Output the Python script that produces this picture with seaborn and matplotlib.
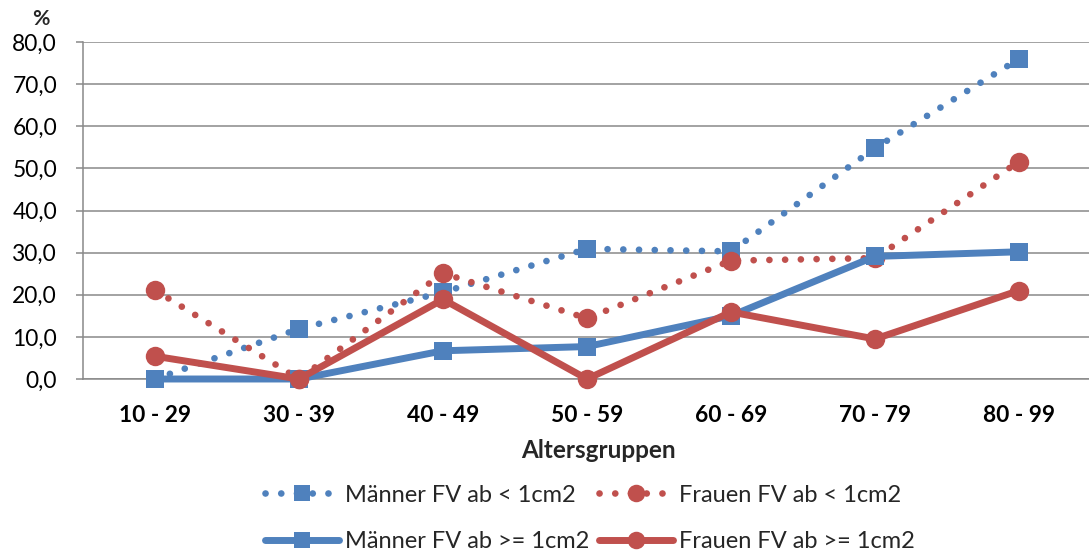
import numpy as np
import pandas as pd
import matplotlib
matplotlib.use("Agg")
import matplotlib.pyplot as plt
import seaborn as sns
from matplotlib.ticker import FuncFormatter, MultipleLocator

# Age groups and percentages per series
altersgruppen = ["10 - 29", "30 - 39", "40 - 49", "50 - 59", "60 - 69", "70 - 79", "80 - 99"]
maenner_lt1 = [0.0, 11.9, 20.6, 30.9, 30.3, 54.8, 76.0]
frauen_lt1 = [21.1, 0.0, 25.1, 14.4, 28.1, 28.7, 51.6]
maenner_ge1 = [0.0, 0.0, 6.7, 7.7, 15.0, 29.1, 30.2]
frauen_ge1 = [5.4, 0.0, 18.9, 0.0, 15.9, 9.5, 21.0]

series_names = ["Männer FV ab < 1cm2", "Frauen FV ab < 1cm2",
                "Männer FV ab >= 1cm2", "Frauen FV ab >= 1cm2"]
series_values = [maenner_lt1, frauen_lt1, maenner_ge1, frauen_ge1]

BLUE = "#4F81BD"
RED = "#C0504D"
GRID = "#898989"

W, H = 1089, 556

sns.set_theme(style="white")
plt.rcParams["font.family"] = ["Lato", "DejaVu Sans"]

fig = plt.figure(figsize=(W / 100, H / 100), dpi=100)
ax = fig.add_axes([83 / W, (H - 379) / H, (1091 - 83) / W, (379 - 42) / H])

x_pos = np.arange(len(altersgruppen))
dotted = (0, (0.01, 2.35))
styles = [
    dict(color=BLUE, marker="s", ls=dotted, lw=4.8, ms=13.5),
    dict(color=RED, marker="o", ls=dotted, lw=4.8, ms=14),
    dict(color=BLUE, marker="s", ls="-", lw=5.0, ms=13.5),
    dict(color=RED, marker="o", ls="-", lw=5.0, ms=14),
]

for i, (name, vals, st) in enumerate(zip(series_names, series_values, styles)):
    df = pd.DataFrame({"x": x_pos, "y": vals})
    sns.lineplot(data=df, x="x", y="y", ax=ax, color=st["color"], marker=st["marker"],
                 linestyle=st["ls"], linewidth=st["lw"], markersize=st["ms"],
                 markeredgewidth=0, dash_capstyle="round", solid_capstyle="round",
                 label=name, legend=False, zorder=3 + i, clip_on=False, sort=False)

ax.set_xlim(-0.5, 6.5)
ax.set_ylim(0, 80)
ax.yaxis.set_major_locator(MultipleLocator(10))
ax.yaxis.set_major_formatter(FuncFormatter(lambda v, p: f"{v:.1f}".replace(".", ",")))
ax.set_xticks(x_pos)
ax.set_xticklabels(altersgruppen, fontweight="bold")
ax.grid(axis="y", color=GRID, linewidth=1.1)
ax.set_axisbelow(True)
ax.set_xlabel("")
ax.set_ylabel("")

for side in ["top", "right"]:
    ax.spines[side].set_visible(False)
for side in ["left", "bottom"]:
    ax.spines[side].set_color(GRID)
    ax.spines[side].set_linewidth(1.1)

ax.tick_params(axis="y", which="major", length=5.2, width=1.1, color=GRID,
               direction="out", left=True, pad=13.5, labelsize=16, labelcolor="black")
ax.tick_params(axis="x", length=0, pad=19, labelsize=16, labelcolor="black")

xlab = fig.text(598 / W, 1 - 450 / H, "Altersgruppen", ha="center", va="center",
                fontsize=16, fontweight="bold")
pct = fig.text(40.5 / W, 1 - 19 / H, "%", ha="center", va="center",
               fontsize=14, fontweight="bold")

fig.canvas.draw()
renderer = fig.canvas.get_renderer()


def width_px(artist):
    return artist.get_window_extent(renderer).width


def fit(artist, target):
    artist.set_fontsize(artist.get_fontsize() * target / width_px(artist))


# size the text elements by their rendered widths
y_lab = [t for t in ax.get_yticklabels() if t.get_text() == "80,0"][0]
ax.tick_params(axis="y", labelsize=16 * 45 / width_px(y_lab))
x_lab = ax.get_xticklabels()[0]
ax.tick_params(axis="x", labelsize=16 * 72 / width_px(x_lab))
fit(xlab, 155)
fit(pct, 17.5)
fig.canvas.draw()

# x tick labels centred at a fixed height below the axis
x_lab = ax.get_xticklabels()[0]
bb = x_lab.get_window_extent(renderer)
cy = H - (bb.y0 + bb.y1) / 2
ax.tick_params(axis="x", pad=19 + (416 - cy) * 0.72)

handles, labels = ax.get_legend_handles_labels()
order = [0, 2, 1, 3]
hs = [handles[k] for k in order]
ls_ = [labels[k] for k in order]


def make_legend(size, spacing, colsp, anchor):
    px = size * 100 / 72
    return fig.legend(hs, ls_, loc="upper left", bbox_to_anchor=anchor,
                      ncol=2, frameon=False, fontsize=size, handlelength=74 / px,
                      handletextpad=6 / px, columnspacing=colsp / px,
                      labelspacing=spacing, borderaxespad=0, borderpad=0,
                      markerscale=0.9)


leg = make_legend(16, 0.8, 7, (265 / W, 1 - 478 / H))
fig.canvas.draw()
size = 16 * 233 / width_px(leg.get_texts()[0])
leg.remove()
leg = make_legend(size, 0.8, 7, (265 / W, 1 - 478 / H))
fig.canvas.draw()
t = leg.get_texts()
b0 = t[0].get_window_extent(renderer)
b1 = t[1].get_window_extent(renderer)
b2 = t[2].get_window_extent(renderer)
pitch = (b0.y0 + b0.y1) / 2 - (b1.y0 + b1.y1) / 2
px = size * 100 / 72
spacing = 0.8 + (47 - pitch) / px
colsp = 7 + (679 - b2.x0) - (345 - b0.x0)
leg.remove()
leg = make_legend(size, spacing, colsp, (265 / W, 1 - 478 / H))
fig.canvas.draw()
b0 = leg.get_texts()[0].get_window_extent(renderer)
dx = 345 - b0.x0
dy = (H - 495) - (b0.y0 + b0.y1) / 2
leg.remove()
leg = make_legend(size, spacing, colsp, ((265 + dx) / W, 1 - (478 - dy) / H))

fig.savefig("out.png", dpi=100)
